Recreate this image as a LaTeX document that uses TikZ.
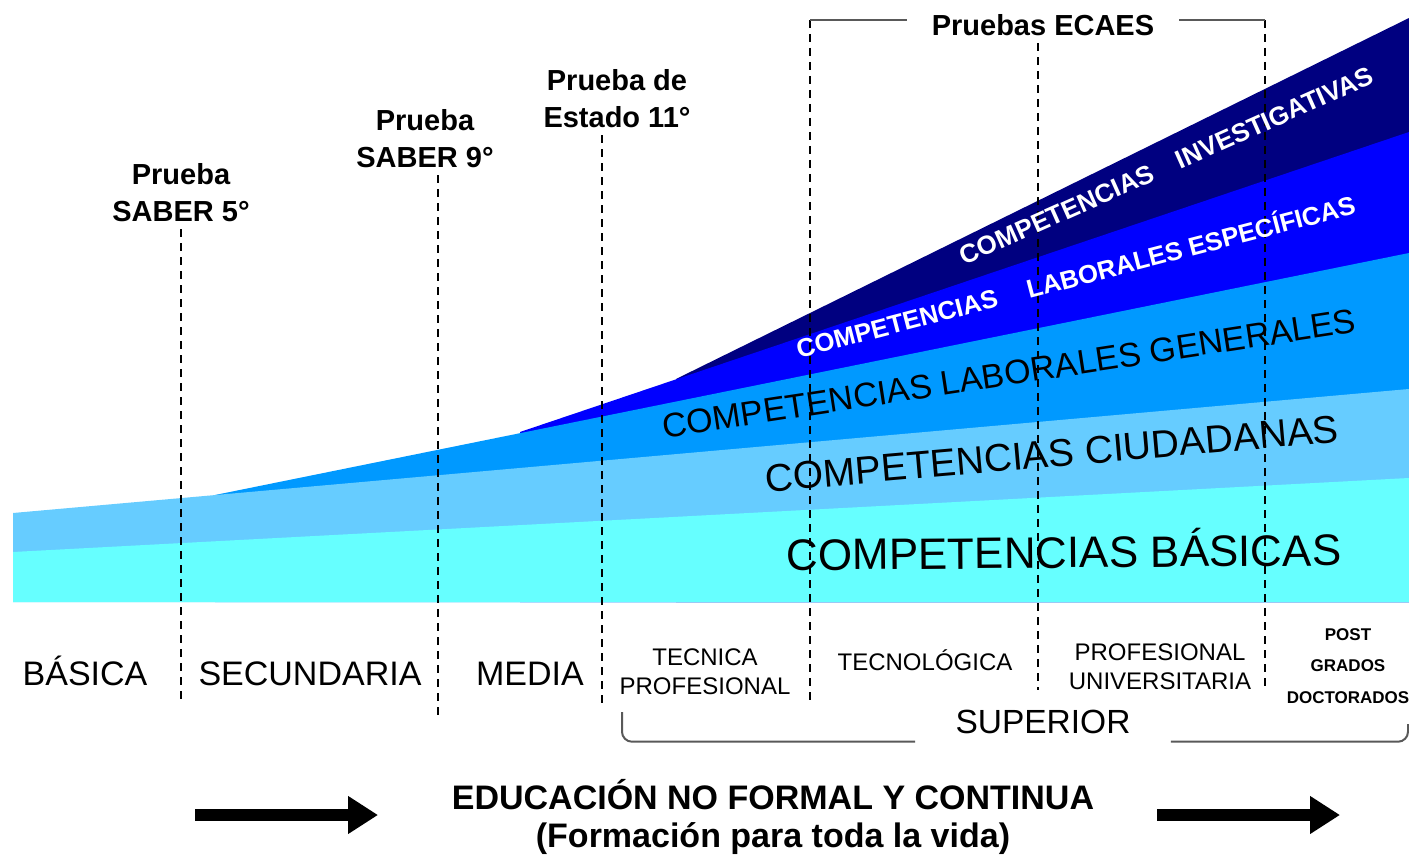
\documentclass[tikz,border=0pt]{standalone}
\usepackage{fontspec}
\setmainfont{Liberation Sans}
\usepackage{tikz}
\usetikzlibrary{calc, positioning, arrows.meta}
\definecolor{cian}{HTML}{66FFFF}
\definecolor{celeste}{HTML}{66CCFF}
\definecolor{azulmedio}{HTML}{0099FF}
\definecolor{azul}{HTML}{0000FF}
\definecolor{marino}{HTML}{000080}

\begin{document}
\begin{tikzpicture}[x=0.5pt, y=-0.5pt,
        prueba/.style={font=\fontsize{14.5}{18.5}\selectfont\bfseries, align=center},
        nivel/.style={font=\fontsize{17}{20}\selectfont, anchor=base},
        ciclo/.style={font=\fontsize{12}{14.5}\selectfont, align=center},
        banda/.style={anchor=base},
        sep/.style={line width=1pt, dash pattern=on 4pt off 3pt},
        llave/.style={line width=1pt, black!65},
        flecha/.style={line width=6pt, -{Triangle[length=15pt, width=18pt]}}]

        \useasboundingbox (0,0) rectangle (1409,856);

        \fill[marino] (676,379) -- (1409,18) |- (676,602) -- cycle;
        \fill[azul] (520,432) -- (1409,132) |- (520,602) -- cycle;
        \fill[azulmedio] (215,495) -- (1409,253) |- (215,602) -- cycle;
        \fill[celeste] (13,513) -- (1409,389) |- (13,602) -- cycle;
        \fill[cian] (13,552) -- (1409,478) |- (13,602) -- cycle;

        \node[prueba] (saber5) at (181,193) {Prueba\\SABER 5°};
        \node[prueba] (saber9) at (425,139) {Prueba\\SABER 9°};
        \node[prueba] (estado) at (617,99) {Prueba de\\Estado 11°};
        \node[prueba, anchor=base, inner xsep=12pt] (ecaes) at (1043,36) {Pruebas ECAES};

        \coordinate (s5) at (181,702);
        \coordinate (s9) at (438,715);
        \coordinate (s11) at (602,708);
        \coordinate (tec) at (810,700);
        \coordinate (uni) at (1038,690);
        \coordinate (post) at (1265,690);
        \coordinate (ecL) at (810,20);
        \coordinate (ecR) at (1265,20);

        \draw[sep] (saber5) -- (s5);
        \draw[sep] (s9 |- saber9.south) -- (s9);
        \draw[sep] (s11 |- estado.south) -- (s11);
        \draw[sep] (ecL) -- (tec);
        \draw[sep] (uni |- ecaes.south) -- (uni);
        \draw[sep] (ecR) -- (post);
        \draw[llave] (ecL) -- (ecL -| ecaes.west);
        \draw[llave] (ecR) -- (ecR -| ecaes.east);

        \node[banda, font=\fontsize{22}{26}\selectfont, rotate=0.5] (basicas) at (1064,568) {COMPETENCIAS BÁSICAS};
        \node[banda, font=\fontsize{19.4}{22}\selectfont, rotate=5] (ciudadanas) at (1053,467) {COMPETENCIAS CIUDADANAS};
        \node[banda, font=\fontsize{17}{20}\selectfont, rotate=8.7] (generales) at (1011,385) {COMPETENCIAS LABORALES GENERALES};
        \node[banda, font=\fontsize{12.85}{15}\selectfont\bfseries, text=white, rotate=14.6] (especificas) at (1078,286) {COMPETENCIAS\hspace{15.5pt}LABORALES ESPECÍFICAS};
        \node[banda, font=\fontsize{13}{15}\selectfont\bfseries, text=white, rotate=24] (investigativas) at (1170,174) {COMPETENCIAS\hspace{13.5pt}INVESTIGATIVAS};

        \node[nivel] (basica) at (85,685) {BÁSICA};
        \node[nivel] (secundaria) at (310,685) {SECUNDARIA};
        \node[nivel] (media) at (530,685) {MEDIA};
        \node[ciclo] (tecnica) at (705,672) {TECNICA\\PROFESIONAL};
        \node[ciclo, anchor=base] (tecnologica) at (925,670) {TECNOLÓGICA};
        \node[ciclo] (profesional) at (1160,667) {PROFESIONAL\\UNIVERSITARIA};
        \node[font=\fontsize{8.5}{15.75}\selectfont\bfseries, align=center] (postgrados) at (1348,666) {POST\\GRADOS\\DOCTORADOS};
        \node[nivel, font=\fontsize{16.75}{20}\selectfont, inner xsep=20pt, inner ysep=4pt] (superior) at (1043,733) {SUPERIOR};

        \coordinate (supL) at (622,712);
        \coordinate (supR) at (1408,724);
        \draw[llave, rounded corners=5pt] (superior.south west) -| (supL);
        \draw[llave, rounded corners=5pt] (superior.south east) -| (supR);

        \node[font=\fontsize{17}{20}\selectfont\bfseries, anchor=base] (educacion) at (773,809) {EDUCACIÓN NO FORMAL Y CONTINUA};
        \node[font=\fontsize{17}{20}\selectfont\bfseries, anchor=base] (formacion) at (773,847) {(Formación para toda la vida)};

        \coordinate (f1) at (195,815);
        \coordinate (f2) at (378,815);
        \coordinate (f3) at (1157,815);
        \coordinate (f4) at (1340,815);
        \draw[flecha] (f1) -- (f2);
        \draw[flecha] (f3) -- (f4);
    \end{tikzpicture}
\end{document}
